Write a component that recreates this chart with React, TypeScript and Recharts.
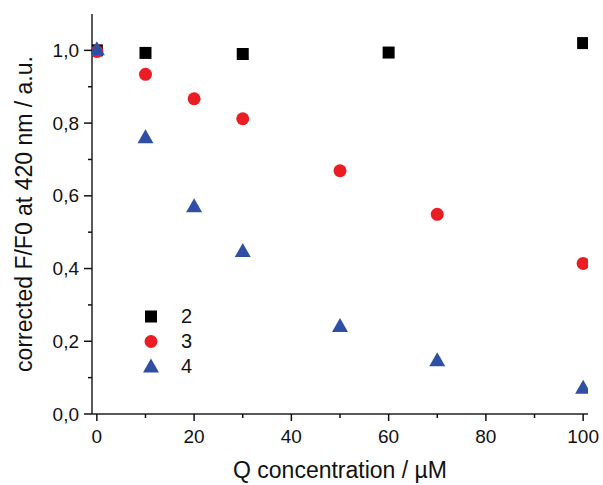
import React from 'react';
import { ScatterChart, Scatter, XAxis, YAxis, Legend } from 'recharts';

const xTicks = [0, 10, 20, 30, 40, 50, 60, 70, 80, 90, 100];
const yTicks = [0, 0.1, 0.2, 0.3, 0.4, 0.5, 0.6, 0.7, 0.8, 0.9, 1.0];

const series2X = [0, 10, 30, 60, 100];
const series2Y = [1.0, 0.993, 0.99, 0.994, 1.02];
const series3X = [0, 10, 20, 30, 50, 70, 100];
const series3Y = [0.997, 0.934, 0.867, 0.812, 0.669, 0.549, 0.414];
const series4X = [0, 10, 20, 30, 50, 70, 100];
const series4Y = [1.003, 0.761, 0.571, 0.448, 0.242, 0.148, 0.072];

const names = ['2', '3', '4'];
const colors = ['#000000', '#ec1c24', '#2e4fa3'];

const zip = (xs: number[], ys: number[]) => xs.map((x, i) => ({ x, y: ys[i] }));
const data2 = zip(series2X, series2Y);
const data3 = zip(series3X, series3Y);
const data4 = zip(series4X, series4Y);

const FONT = '"Liberation Sans", Arial, sans-serif';

const Square = (props: any) => {
  const { cx, cy, fill } = props;
  if (cx == null || cy == null) return null;
  return <rect x={cx - 6} y={cy - 6} width={12} height={12} fill={fill} />;
};
const Circle = (props: any) => {
  const { cx, cy, fill } = props;
  if (cx == null || cy == null) return null;
  return <circle cx={cx} cy={cy} r={6.5} fill={fill} />;
};
const Triangle = (props: any) => {
  const { cx, cy, fill } = props;
  if (cx == null || cy == null) return null;
  return <polygon points={`${cx},${cy - 8} ${cx - 8},${cy + 6} ${cx + 8},${cy + 6}`} fill={fill} />;
};

const XTick = (props: any) => {
  const { x, y, payload } = props;
  const v = payload.value;
  const major = Math.round(v) % 20 === 0;
  return (
    <g>
      <line x1={x} x2={x} y1={y} y2={y + (major ? 7 : 4)} stroke="#111" strokeWidth={1.5} />
      {major && (
        <text x={x} y={y + 29} textAnchor="middle" fontSize={19} fontFamily={FONT} fill="#111">
          {v}
        </text>
      )}
    </g>
  );
};

const YTick = (props: any) => {
  const { x, y, payload } = props;
  const v = payload.value;
  const major = Math.round(v * 10) % 2 === 0;
  return (
    <g>
      <line x1={x - (major ? 8 : 4)} x2={x} y1={y} y2={y} stroke="#111" strokeWidth={1.5} />
      {major && (
        <text x={x - 13} y={y} textAnchor="end" dominantBaseline="central" fontSize={19} fontFamily={FONT} fill="#111">
          {v.toFixed(1).replace('.', ',')}
        </text>
      )}
    </g>
  );
};

const YTitle = (props: any) => {
  const vb = props.viewBox || { x: 0, y: 14, width: 92, height: 400 };
  const cx = vb.x + 24;
  const cy = vb.y + vb.height / 2;
  return (
    <text x={cx} y={cy} transform={`rotate(-90, ${cx}, ${cy})`} textAnchor="middle" dominantBaseline="central" fontSize={23} fontFamily={FONT} fill="#111">
      corrected F/F0 at 420 nm / a.u.
    </text>
  );
};

const XTitle = (props: any) => {
  const vb = props.viewBox || { x: 92, y: 414, width: 496, height: 71 };
  return (
    <text x={vb.x + vb.width / 2} y={vb.y + 64} textAnchor="middle" fontSize={23} fontFamily={FONT} fill="#111">
      Q concentration / µM
    </text>
  );
};

const shapes = [Square, Circle, Triangle];

const renderLegend = () => (
  <div style={{ fontFamily: FONT }}>
    {names.map((n, i) => {
      const Shape = shapes[i];
      return (
        <div key={n} style={{ display: 'flex', alignItems: 'center', height: 25 }}>
          <svg width={22} height={25}>
            <Shape cx={11} cy={12.5} fill={colors[i]} />
          </svg>
          <span style={{ marginLeft: 19, fontSize: 20, color: '#111', lineHeight: '25px' }}>{n}</span>
        </div>
      );
    })}
  </div>
);

export default function App() {
  return (
    <div style={{ position: 'absolute', left: 0, top: 0, background: '#fff' }}>
      <ScatterChart width={603} height={485} margin={{ top: 14, right: 15, left: 0, bottom: 0 }}>
        <XAxis
          type="number"
          dataKey="x"
          domain={[-1, 101]}
          ticks={xTicks}
          interval={0}
          tick={<XTick />}
          tickLine={false}
          tickSize={0}
          tickMargin={0}
          height={71}
          axisLine={{ stroke: '#222', strokeWidth: 1.5 }}
          label={<XTitle />}
          allowDataOverflow
        />
        <XAxis
          xAxisId="top"
          orientation="top"
          type="number"
          domain={[-1, 101]}
          tick={false}
          tickLine={false}
          height={0}
          axisLine={{ stroke: '#222', strokeWidth: 1.5 }}
        />
        <YAxis
          type="number"
          dataKey="y"
          domain={[0, 1.1]}
          ticks={yTicks}
          interval={0}
          tick={<YTick />}
          tickLine={false}
          tickSize={0}
          tickMargin={0}
          width={92}
          axisLine={{ stroke: '#222', strokeWidth: 1.5 }}
          label={<YTitle />}
          allowDataOverflow
        />
        <YAxis
          yAxisId="right"
          orientation="right"
          type="number"
          domain={[0, 1.1]}
          tick={false}
          tickLine={false}
          width={0}
          axisLine={{ stroke: '#222', strokeWidth: 1.5 }}
        />
        <Legend
          content={renderLegend}
          layout="vertical"
          align="center"
          verticalAlign="middle"
          wrapperStyle={{ position: 'absolute', left: 140, top: 304, width: 80 }}
        />
        <Scatter name={names[0]} data={data2} fill={colors[0]} shape={<Square />} isAnimationActive={false} />
        <Scatter name={names[1]} data={data3} fill={colors[1]} shape={<Circle />} isAnimationActive={false} />
        <Scatter name={names[2]} data={data4} fill={colors[2]} shape={<Triangle />} isAnimationActive={false} />
      </ScatterChart>
    </div>
  );
}
